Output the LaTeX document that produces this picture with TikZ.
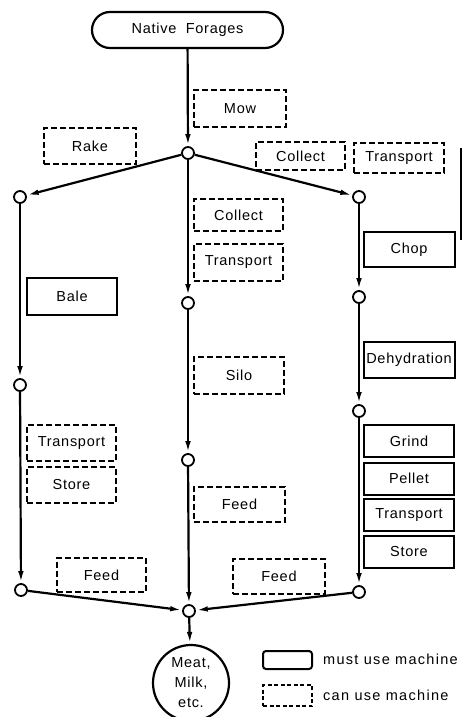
\documentclass[tikz,border=0pt]{standalone}
\usepackage{fontspec}
\setmainfont{Liberation Sans}[LetterSpace=5]
\usetikzlibrary{arrows.meta,shapes.misc}
\begin{document}
\begin{tikzpicture}[x=1pt,y=-1pt,
  every node/.style={font=\fontsize{14.5}{20}\selectfont, inner sep=0pt},
  sbox/.style={draw, line width=2pt, minimum width=89pt, minimum height=34pt},
  dbox/.style={draw, line width=1.6pt, dash pattern=on 6pt off 3pt, minimum width=89pt, minimum height=34pt},
  jn/.style={circle, draw, line width=1.8pt, fill=white, minimum size=12pt},
  conn/.style={line width=2.2pt, -{Latex[length=12pt,width=5.5pt]}},
  lgtext/.style={anchor=west, font=\fontsize{14.5}{20}\selectfont\addfontfeature{LetterSpace=9}}]
\useasboundingbox (0,0) rectangle (469,717);
% top
\node[rounded rectangle, draw, line width=2.2pt, minimum width=191pt, minimum height=36pt] (nf) at (187.5,30) {Native\ \ Forages};
% junctions
\node[jn] (top) at (188,153) {};
\node[jn] (l1) at (20,197) {};
\node[jn] (r1) at (359,197) {};
\node[jn] (c2) at (188,303) {};
\node[jn] (l2) at (20,385) {};
\node[jn] (r2) at (359,297) {};
\node[jn] (r3) at (359,411) {};
\node[jn] (c3) at (188,460) {};
\node[jn] (l3) at (21,590) {};
\node[jn] (r4) at (359,592) {};
\node[jn] (cb) at (189,611) {};
\node[circle, draw, line width=2.2pt, minimum size=76pt, align=center] (meat) at (191,683) {Meat,\\Milk,\\etc.};
% dashed boxes
\node[dbox, minimum width=92pt, minimum height=37pt] (mow) at (240,108.5) {Mow};
\node[dbox, minimum width=92pt, minimum height=36pt] (rake) at (90,146) {Rake};
\node[dbox, minimum width=89pt, minimum height=28pt] (col1) at (300.5,156) {Collect};
\node[dbox, minimum width=90pt, minimum height=30pt] (tra1) at (399,158) {Transport};
\node[dbox, minimum width=89pt, minimum height=32pt] (col2) at (238.5,215) {Collect};
\node[dbox, minimum width=89pt, minimum height=37pt] (tra2) at (238.5,262.5) {Transport};
\node[dbox, minimum width=90pt, minimum height=37pt] (silo) at (239,375.5) {Silo};
\node[dbox, minimum width=91pt, minimum height=35pt] (feedc) at (239.5,504.5) {Feed};
\node[dbox, minimum width=89pt, minimum height=36pt] (traL) at (71.5,443) {Transport};
\node[dbox, minimum width=89pt, minimum height=36pt] (stoL) at (71.5,485) {Store};
\node[dbox, minimum width=89pt, minimum height=34pt] (feedL) at (101.5,575) {Feed};
\node[dbox, minimum width=92pt, minimum height=35pt] (feedR) at (279,576.5) {Feed};
% solid boxes
\node[sbox, minimum width=90pt, minimum height=37pt] (bale) at (72,296.5) {Bale};
\node[sbox, minimum width=91pt, minimum height=35pt] (chop) at (409,249.5) {Chop};
\node[sbox, minimum width=91pt, minimum height=36pt] (dehy) at (409,359.5) {Dehydration};
\node[sbox, minimum width=90pt, minimum height=32pt] (grind) at (409,441) {Grind};
\node[sbox, minimum width=90pt, minimum height=32pt] (pellet) at (409,478.5) {Pellet};
\node[sbox, minimum width=90pt, minimum height=32pt] (traR) at (409,515) {Transport};
\node[sbox, minimum width=90pt, minimum height=32pt] (stoR) at (409,552) {Store};
% connectors
\draw[conn] (nf) -- (top);
\draw[conn] (top) -- (l1);
\draw[conn] (top) -- (r1);
\draw[conn] (top) -- (c2);
\draw[conn] (c2) -- (c3);
\draw[conn] (c3) -- (cb);
\draw[conn] (cb) -- (meat);
\draw[conn] (l1) -- (l2);
\draw[conn] (l2) -- (l3);
\draw[conn] (l3) -- (cb);
\draw[conn] (r1) -- (r2);
\draw[conn] (r2) -- (r3);
\draw[conn] (r3) -- (r4);
\draw[conn] (r4) -- (cb);
% stray margin line
\coordinate (sa) at (461,148);
\coordinate (sb) at (461,240);
\draw[line width=1.4pt] (sa) -- (sb);
% legend
\node[draw, line width=2pt, rounded corners=3pt, minimum width=49pt, minimum height=18pt] (lgs) at (287.5,660) {};
\node[draw, line width=1.5pt, dash pattern=on 4pt off 2.5pt, minimum width=49pt, minimum height=21pt] (lgd) at (287.5,695.5) {};
\node[lgtext] (lgst) at (323,659) {must use machine};
\node[lgtext] (lgdt) at (323,695) {can use machine};
\end{tikzpicture}
\end{document}
